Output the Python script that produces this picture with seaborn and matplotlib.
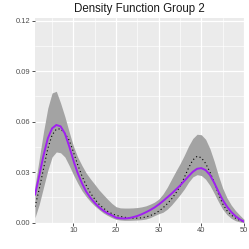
import matplotlib
matplotlib.use("Agg")
import matplotlib.pyplot as plt
from matplotlib.ticker import MultipleLocator
import seaborn as sns
import pandas as pd

x_vals = list(range(1, 51))

density_fit = [0.0165, 0.0280, 0.0400, 0.0500, 0.0560, 0.0580, 0.0572, 0.0530, 0.0455, 0.0370,
               0.0295, 0.0235, 0.0185, 0.0148, 0.0118, 0.0092, 0.0072, 0.0056, 0.0044, 0.0030,
               0.0026, 0.0025, 0.0027, 0.0033, 0.0040, 0.0050, 0.0062, 0.0075, 0.0090, 0.0108,
               0.0128, 0.0150, 0.0172, 0.0196, 0.0220, 0.0248, 0.0276, 0.0302, 0.0320, 0.0324,
               0.0312, 0.0284, 0.0238, 0.0185, 0.0135, 0.0096, 0.0064, 0.0039, 0.0020, 0.0006]

density_true = [0.0095, 0.0200, 0.0320, 0.0440, 0.0520, 0.0555, 0.0557, 0.0530, 0.0490, 0.0420,
                0.0345, 0.0278, 0.0222, 0.0176, 0.0140, 0.0110, 0.0087, 0.0068, 0.0054, 0.0044,
                0.0037, 0.0032, 0.0029, 0.0027, 0.0027, 0.0029, 0.0034, 0.0042, 0.0053, 0.0068,
                0.0088, 0.0112, 0.0140, 0.0175, 0.0215, 0.0268, 0.0325, 0.0372, 0.0394, 0.0386,
                0.0352, 0.0302, 0.0240, 0.0172, 0.0112, 0.0072, 0.0046, 0.0027, 0.0014, 0.0005]

band_upper = [0.0220, 0.0380, 0.0540, 0.0680, 0.0770, 0.0780, 0.0710, 0.0630, 0.0540, 0.0455,
              0.0390, 0.0340, 0.0295, 0.0260, 0.0228, 0.0195, 0.0167, 0.0140, 0.0115, 0.0095,
              0.0088, 0.0087, 0.0087, 0.0088, 0.0090, 0.0094, 0.0100, 0.0110, 0.0122, 0.0140,
              0.0170, 0.0210, 0.0258, 0.0305, 0.0350, 0.0400, 0.0455, 0.0500, 0.0525, 0.0522,
              0.0495, 0.0440, 0.0365, 0.0280, 0.0205, 0.0148, 0.0105, 0.0072, 0.0045, 0.0020]

band_lower = [0.0030, 0.0110, 0.0210, 0.0310, 0.0390, 0.0420, 0.0415, 0.0390, 0.0340, 0.0285,
              0.0235, 0.0190, 0.0155, 0.0125, 0.0100, 0.0078, 0.0058, 0.0043, 0.0030, 0.0020,
              0.0016, 0.0014, 0.0014, 0.0015, 0.0016, 0.0018, 0.0022, 0.0030, 0.0042, 0.0053,
              0.0062, 0.0080, 0.0105, 0.0135, 0.0166, 0.0200, 0.0240, 0.0272, 0.0285, 0.0280,
              0.0258, 0.0222, 0.0175, 0.0125, 0.0080, 0.0048, 0.0026, 0.0012, 0.0005, 0.0000]

df = pd.DataFrame({"x": x_vals, "fit": density_fit, "true": density_true,
                   "lo": band_lower, "hi": band_upper})

sns.set_theme(style="darkgrid", rc={
    "axes.facecolor": "#EBEBEB",
    "grid.color": "white",
    "axes.edgecolor": "#EBEBEB",
})
plt.rcParams["font.family"] = ["Liberation Sans", "DejaVu Sans"]

fig = plt.figure(figsize=(2.49, 2.49), dpi=100)
ax = fig.add_axes([35 / 249, 1 - 222.7 / 249, 209 / 249, (222.7 - 17.5) / 249])

ax.fill_between(df["x"], df["lo"], df["hi"], color="#A3A3A3", linewidth=0, zorder=2)
sns.lineplot(data=df, x="x", y="true", ax=ax, color="black", linewidth=0.8,
             linestyle=(0, (1, 2.4)), zorder=3)
sns.lineplot(data=df, x="x", y="fit", ax=ax, color="#A020F0", linewidth=1.4, zorder=4)

ax.set_xlim(1, 50)
ax.set_ylim(0, 0.1218)
ax.xaxis.set_minor_locator(MultipleLocator(5))
ax.yaxis.set_minor_locator(MultipleLocator(0.015))
ax.set_yticks([0, 0.03, 0.06, 0.09, 0.12])
ax.set_yticklabels(["0.00", "0.03", "0.06", "0.09", "0.12"])
ax.set_xticks([10, 20, 30, 40, 50])
ax.set_xticklabels(["10", "20", "30", "40", "50"])

ax.grid(which="major", color="white", linewidth=0.9)
ax.grid(which="minor", color="white", linewidth=0.45)
ax.tick_params(which="major", length=2, width=0.6, color="#333333",
               labelsize=5.4, labelcolor="#4D4D4D", pad=1.2)
ax.tick_params(which="minor", length=0)
ax.tick_params(axis="x", bottom=True)
ax.tick_params(axis="y", left=True)
for s in ax.spines.values():
    s.set_visible(False)

ax.set_xlabel("")
ax.set_ylabel("")
ax.set_title("Density Function Group 2", fontsize=8.3, color="#1A1A1A", pad=4)

fig.savefig("out.png", dpi=100)
